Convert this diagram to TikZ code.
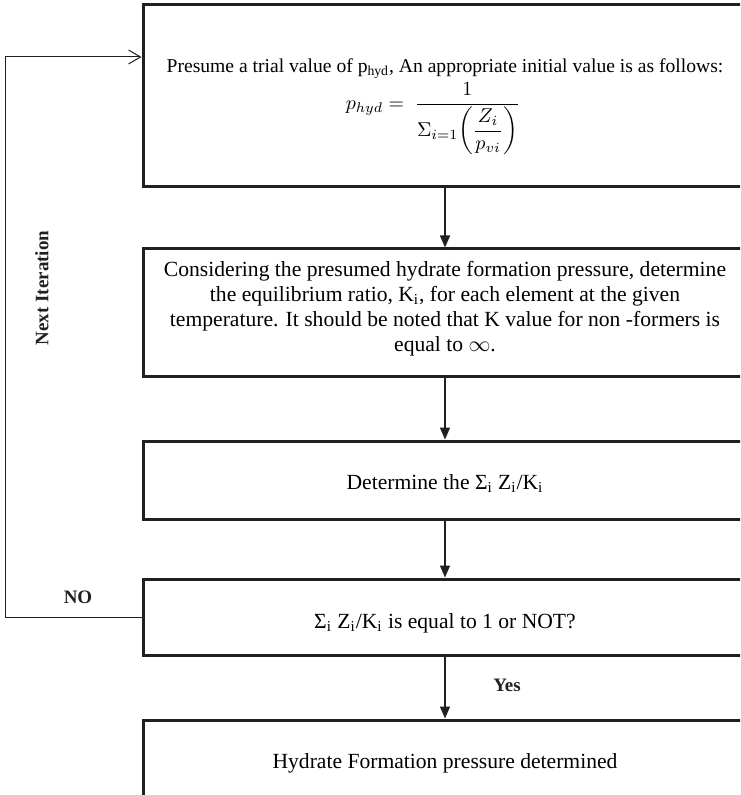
\documentclass[tikz,border=0pt]{standalone}
\usepackage{amsmath}
\usepackage{fontspec}
\setmainfont{Liberation Serif}
\usetikzlibrary{positioning, arrows.meta}
\definecolor{inkline}{RGB}{35,31,32}
\tikzset{
  stepbox/.style={draw=inkline, line width=1.5pt, minimum width=302pt, align=center,
    font=\fontsize{10.8}{12.5}\selectfont, inner sep=2pt},
  flowarrow/.style={draw=inkline, line width=0.75pt, -{Triangle[length=6pt, width=5pt]}},
  loopline/.style={draw=inkline, line width=0.5pt},
  looptip/.style={-{Straight Barb[length=6pt, width=7pt]}},
  flowlabel/.style={font=\bfseries\fontsize{9.5}{11}\selectfont, text=inkline}
}
\begin{document}
\begin{tikzpicture}[x=0.5pt, y=-0.5pt]
  \useasboundingbox (0,0) rectangle (740,795);
  \clip (0,0) rectangle (740,795);
  \node[stepbox, minimum height=91pt, font=\fontsize{9.8}{11}\selectfont] (trial) at (445,96)
    {\rule{0pt}{18pt}Presume a trial value of p\textsubscript{hyd}, An appropriate initial value is as follows:\\[1pt]
     \fontsize{9.6}{11}\selectfont
     $p_{hyd}=\ \dfrac{1}{\Sigma_{i=1}\!\left(\dfrac{Z_i}{p_{vi}}\right)}$\hspace*{12pt}};
  \node[stepbox, minimum height=64pt] (ratio) at (445,313)
    {Considering the presumed hydrate formation pressure, determine\\
     the equilibrium ratio, K\textsubscript{i}, for each element at the given\\
     temperature. It should be noted that K value for non -formers is\\
     equal to $\infty$.\rule[-7pt]{0pt}{7pt}};
  \node[stepbox, minimum height=39pt] (sumk) at (445,480)
    {\rule{0pt}{11pt}Determine the Σ\textsubscript{i} Z\textsubscript{i}/K\textsubscript{i}};
  \node[stepbox, minimum height=38pt] (check) at (445,617)
    {\rule{0pt}{13.5pt}Σ\textsubscript{i} Z\textsubscript{i}/K\textsubscript{i} is equal to 1 or NOT?};
  \node[stepbox, minimum height=43pt] (result) at (445,763)
    {Hydrate Formation pressure determined};

  \draw[flowarrow] (trial) -- (ratio);
  \draw[flowarrow] (ratio) -- (sumk);
  \draw[flowarrow] (sumk) -- (check);
  \draw[flowarrow] (check) -- (result);
  \draw[loopline, looptip] (check.west) -- ++(-136,0) |- ([yshift=19.5pt]trial.west);

  \node[flowlabel] (yes) at (507,685) {Yes};
  \node[flowlabel] (no) at (78,597) {NO};
  \node[flowlabel, rotate=90] (iter) at (42,288) {Next Iteration};
\end{tikzpicture}
\end{document}
